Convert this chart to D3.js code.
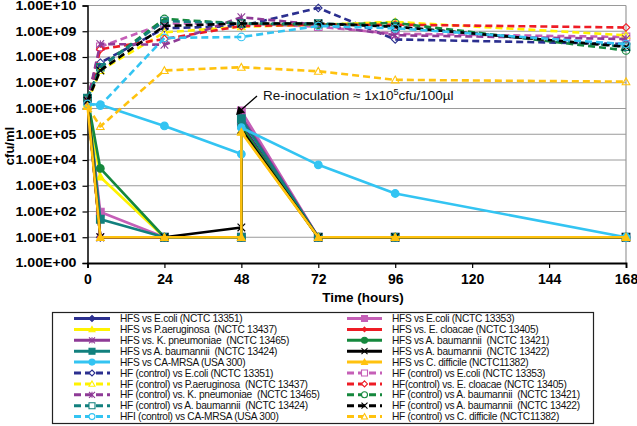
<!DOCTYPE html>
<html><head><meta charset="utf-8">
<script src="https://cdn.jsdelivr.net/npm/d3@7"></script>
<style>body{margin:0;background:#fff}text{font-family:"Liberation Sans",Arial,sans-serif}</style>
</head><body>
<svg id="c" width="637" height="426"></svg>
<script>
// ---- data ----
const controlTimes = [0, 4, 24, 48, 72, 96, 168];
const hfsTimes = [0, 4, 24, 48, 48, 72, 96, 168]; // 48 twice: before / after re-inoculation
const xTicks = [0, 24, 48, 72, 96, 120, 144, 168];
const yExponents = [0, 1, 2, 3, 4, 5, 6, 7, 8, 9, 10];

// HFS series (solid)
const hfsEcoli13351 = [2.0e6, 10, 10, 10, 2.5e5, 10, 10, 10];
const hfsEcoli13353 = [2.2e6, 95, 10, 10, 8.0e5, 10, 10, 10];
const hfsPaeru = [1.5e6, 2.2e3, 10, 10, 1.3e5, 10, 10, 10];
const hfsEcloacae = [2.0e6, 10, 10, 10, 2.0e5, 10, 10, 10];
const hfsKpneu = [2.0e6, 10, 10, 10, 5.0e5, 10, 10, 10];
const hfsAb13421 = [2.5e6, 4.7e3, 10, 10, 2.0e5, 10, 10, 10];
const hfsAb13424 = [2.5e6, 50, 10, 10, 4.0e5, 10, 10, 10];
const hfsAb13422 = [2.0e6, 10, 10, 24, 1.5e5, 10, 10, 10];
const hfsMrsa = [1.5e6, 1.4e6, 2.1e5, 1.7e4, 1.8e5, 6.5e3, 5.0e2, 10];
const hfsCdiff = [1.3e6, 10, 10, 10, 1.2e5, 10, 10, 10];

// HF control series (dashed)
const ctlEcoli13351 = [2.0e6, 6.0e7, 1.3e9, 1.6e9, 8.0e9, 4.8e8, 3.2e8];
const ctlEcoli13353 = [2.0e6, 2.5e8, 2.0e9, 2.0e9, 1.5e9, 8.0e8, 6.0e8];
const ctlPaeru = [1.8e6, 3.0e7, 9.0e8, 1.5e9, 1.8e9, 2.3e9, 7.0e8];
const ctlEcloacae = [2.0e6, 2.0e8, 5.0e8, 1.6e9, 1.8e9, 1.8e9, 1.4e9];
const ctlKpneu = [2.0e6, 3.2e8, 3.0e8, 3.5e9, 1.8e9, 7.0e8, 5.0e8];
const ctlAb13421 = [2.5e6, 4.0e7, 3.0e9, 2.0e9, 1.8e9, 2.1e9, 1.8e8];
const ctlAb13424 = [2.5e6, 4.0e7, 2.5e9, 2.0e9, 2.0e9, 1.5e9, 2.5e8];
const ctlAb13422 = [2.0e6, 3.0e7, 1.6e9, 2.0e9, 2.0e9, 1.5e9, 2.5e8];
const ctlMrsa = [1.5e6, 1.3e6, 5.5e8, 6.0e8, 1.6e9, 1.3e9, 3.2e8];
const ctlCdiff = [1.2e6, 2.0e5, 3.0e7, 4.0e7, 2.8e7, 1.3e7, 1.1e7];

const legendLeft = [
  "HFS vs E.coli (NCTC 13351)", "HFS vs P.aeruginosa  (NCTC 13437)", "HFS vs. K. pneumoniae  (NCTC 13465)",
  "HFS vs A. baumannii  (NCTC 13424)", "HFS vs CA-MRSA (USA 300)", "HF (control) vs E.coli (NCTC 13351)",
  "HF (control) vs P.aeruginosa  (NCTC 13437)", "HF (control) vs. K. pneumoniae  (NCTC 13465)",
  "HF (control) vs A. baumannii  (NCTC 13424)", "HFI (control) vs CA-MRSA (USA 300)"];
const legendRight = [
  "HFS vs E.coli (NCTC 13353)", "HFS vs. E. cloacae (NCTC 13405)", "HFS vs A. baumannii  (NCTC 13421)",
  "HFS vs A. baumannii  (NCTC 13422)", "HFS vs C. difficile (NCTC11382)", "HF (control) vs E.coli (NCTC 13353)",
  "HF(control) vs. E. cloacae (NCTC 13405)", "HF (control) vs A. baumannii  (NCTC 13421)",
  "HF (control) vs A. baumannii  (NCTC 13422)", "HF (control) vs C. difficile (NCTC11382)"];

// ---- styles ----
const C = {navy:"#2b2f8f", yellow:"#fff200", purple:"#8e3a96", teal:"#12807e", lblue:"#33c4f2",
  pink:"#c55fb7", red:"#ee1c25", green:"#15883d", black:"#000000", gold:"#ffc20e"};

const series = [
  {v:hfsEcoli13351, t:hfsTimes, c:C.navy, m:"diamond", d:false, col:0, row:0},
  {v:hfsEcoli13353, t:hfsTimes, c:C.pink, m:"square", d:false, col:1, row:0},
  {v:hfsPaeru, t:hfsTimes, c:C.yellow, m:"triangle", d:false, col:0, row:1},
  {v:hfsEcloacae, t:hfsTimes, c:C.red, m:"sdiamond", d:false, col:1, row:1},
  {v:hfsKpneu, t:hfsTimes, c:C.purple, m:"asterisk", d:false, col:0, row:2},
  {v:hfsAb13421, t:hfsTimes, c:C.green, m:"circle", d:false, col:1, row:2},
  {v:hfsAb13424, t:hfsTimes, c:C.teal, m:"square", d:false, col:0, row:3},
  {v:hfsAb13422, t:hfsTimes, c:C.black, m:"x", d:false, col:1, row:3},
  {v:hfsMrsa, t:hfsTimes, c:C.lblue, m:"circle", d:false, col:0, row:4},
  {v:hfsCdiff, t:hfsTimes, c:C.gold, m:"triangle", d:false, col:1, row:4},
  {v:ctlEcoli13351, t:controlTimes, c:C.navy, m:"diamond", d:true, col:0, row:5},
  {v:ctlEcoli13353, t:controlTimes, c:C.pink, m:"square", d:true, col:1, row:5},
  {v:ctlPaeru, t:controlTimes, c:C.yellow, m:"triangle", d:true, col:0, row:6},
  {v:ctlEcloacae, t:controlTimes, c:C.red, m:"diamond", d:true, col:1, row:6},
  {v:ctlKpneu, t:controlTimes, c:C.purple, m:"asterisk", d:true, col:0, row:7},
  {v:ctlAb13421, t:controlTimes, c:C.green, m:"circle", d:true, col:1, row:7},
  {v:ctlAb13424, t:controlTimes, c:C.teal, m:"square", d:true, col:0, row:8},
  {v:ctlAb13422, t:controlTimes, c:C.black, m:"x", d:true, col:1, row:8},
  {v:ctlMrsa, t:controlTimes, c:C.lblue, m:"circle", d:true, col:0, row:9},
  {v:ctlCdiff, t:controlTimes, c:C.gold, m:"triangle", d:true, col:1, row:9}
];

const svg = d3.select("#c");
const x = d3.scaleLinear().domain([0, 168]).range([87.5, 626]);
const y = d3.scaleLog().domain([1, 1e10]).range([263, 5.5]);

// gridlines
svg.append("g").selectAll("line").data(yExponents.filter(e => e > 0)).join("line")
  .attr("x1", x(0)).attr("x2", x(168)).attr("y1", e => y(Math.pow(10, e))).attr("y2", e => y(Math.pow(10, e)))
  .attr("stroke", "#9a9a9a").attr("stroke-width", 1);
svg.append("line").attr("x1", x(168)).attr("x2", x(168)).attr("y1", y(1e10)).attr("y2", y(1))
  .attr("stroke", "#9a9a9a").attr("stroke-width", 1.2);

// axes
const yAxis = d3.axisLeft(y).tickValues(yExponents.map(e => Math.pow(10, e))).tickSize(5)
  .tickFormat(v => "1.00E+" + String(Math.round(Math.log10(v))).padStart(2, "0"));
const gy = svg.append("g").attr("transform", `translate(${x(0)},0)`).call(yAxis);
gy.select(".domain").attr("stroke", "#000").attr("stroke-width", 1.5);
gy.selectAll(".tick line").attr("stroke", "#000").attr("stroke-width", 1.2);
gy.selectAll(".tick text").attr("x", -11).attr("font-size", 12).attr("font-weight", "bold")
  .attr("textLength", 61).attr("lengthAdjust", "spacingAndGlyphs")
  .attr("fill", "#000").style("font-family", '"Liberation Sans",Arial,sans-serif');

const xAxis = d3.axisBottom(x).tickValues(xTicks).tickSize(5).tickFormat(d3.format("d"));
const gx = svg.append("g").attr("transform", `translate(0,${y(1)})`).call(xAxis);
gx.select(".domain").attr("stroke", "#000").attr("stroke-width", 1.8);
gx.selectAll(".tick line").attr("stroke", "#000").attr("stroke-width", 1.2);
gx.selectAll(".tick text").attr("y", 11).attr("font-size", 14).attr("font-weight", "bold")
  .attr("fill", "#000").style("font-family", '"Liberation Sans",Arial,sans-serif');

svg.append("text").attr("x", 363).attr("y", 302).attr("text-anchor", "middle")
  .attr("font-size", 13.5).attr("font-weight", "bold").text("Time (hours)");
svg.append("text").attr("transform", "translate(14,146) rotate(-90)").attr("text-anchor", "middle")
  .attr("font-size", 13).attr("font-weight", "bold").text("cfu/ml");

// markers
function markerPath(type, s) {
  switch (type) {
    case "diamond": return `M0,${-s}L${s},0L0,${s}L${-s},0Z`;
    case "sdiamond": { const r = s * 0.75; return `M0,${-r}L${r},0L0,${r}L${-r},0Z`; }
    case "square": return `M${-s},${-s}h${2*s}v${2*s}h${-2*s}Z`;
    case "triangle": return `M0,${-s}L${s},${s*0.8}L${-s},${s*0.8}Z`;
    case "circle": return `M${-s},0a${s},${s} 0 1,0 ${2*s},0a${s},${s} 0 1,0 ${-2*s},0Z`;
    case "x": return `M${-s},${-s}L${s},${s}M${-s},${s}L${s},${-s}`;
    case "asterisk": return `M${-s},${-s}L${s},${s}M${-s},${s}L${s},${-s}M0,${-s}L0,${s}`;
  }
}
const strokeOnly = m => m === "x" || m === "asterisk";

const line = d3.line().x(d => x(d[0])).y(d => y(d[1]));
const plot = svg.append("g");
series.forEach(s => {
  const pts = s.t.map((t, i) => [t, s.v[i]]);
  const g = plot.append("g");
  g.append("path").attr("d", line(pts)).attr("fill", "none").attr("stroke", s.c)
    .attr("stroke-width", 2.6).attr("stroke-dasharray", s.d ? "7,4" : null)
    .attr("stroke-linejoin", "round");
  g.selectAll("path.m").data(pts).join("path").attr("class", "m")
    .attr("transform", d => `translate(${x(d[0])},${y(d[1])})`)
    .attr("d", markerPath(s.m, 3.8))
    .attr("fill", strokeOnly(s.m) ? "none" : (s.d ? "#fff" : s.c))
    .attr("fill-opacity", s.d ? 0 : 1)
    .attr("stroke", s.c).attr("stroke-width", s.d ? 1.1 : 1.2);
});

// annotation
svg.append("path").attr("d", "M257,96L241,110").attr("stroke", "#000").attr("stroke-width", 1.3);
svg.append("path").attr("d", "M236,115L238.5,106L245,112.5Z").attr("fill", "#000");
const ann = svg.append("text").attr("x", 263).attr("y", 100).attr("font-size", 13.5).attr("fill", "#111");
ann.append("tspan").text("Re-inoculation \u2248 1x10");
ann.append("tspan").attr("font-size", 9).attr("dy", -5).text("5");
ann.append("tspan").attr("dy", 5).text("cfu/100\u00b5l");

// legend
const lg = svg.append("g");
lg.append("rect").attr("x", 52.5).attr("y", 312.5).attr("width", 541).attr("height", 111)
  .attr("fill", "#fff").attr("stroke", "#222").attr("stroke-width", 1.2);
const colX = [{l0: 74, l1: 110, tx: 120}, {l0: 347, l1: 382, tx: 392}];
series.forEach(s => {
  const cx = colX[s.col], yy = 318.5 + s.row * 10.9;
  const g = lg.append("g");
  g.append("line").attr("x1", cx.l0).attr("x2", cx.l1).attr("y1", yy).attr("y2", yy)
    .attr("stroke", s.c).attr("stroke-width", 3).attr("stroke-dasharray", s.d ? "7,4" : null);
  g.append("path").attr("transform", `translate(${(cx.l0 + cx.l1) / 2},${yy})`)
    .attr("d", markerPath(s.m, 3)).attr("fill", strokeOnly(s.m) ? "none" : (s.d ? "#fff" : s.c))
    .attr("stroke", s.c).attr("stroke-width", 1.1);
  g.append("text").attr("x", cx.tx).attr("y", yy + 3.6).attr("font-size", 10.2)
    .attr("letter-spacing", -0.3)
    .style("white-space", "pre").attr("fill", "#111")
    .text((s.col === 0 ? legendLeft : legendRight)[s.row]);
});
</script>
</body></html>
